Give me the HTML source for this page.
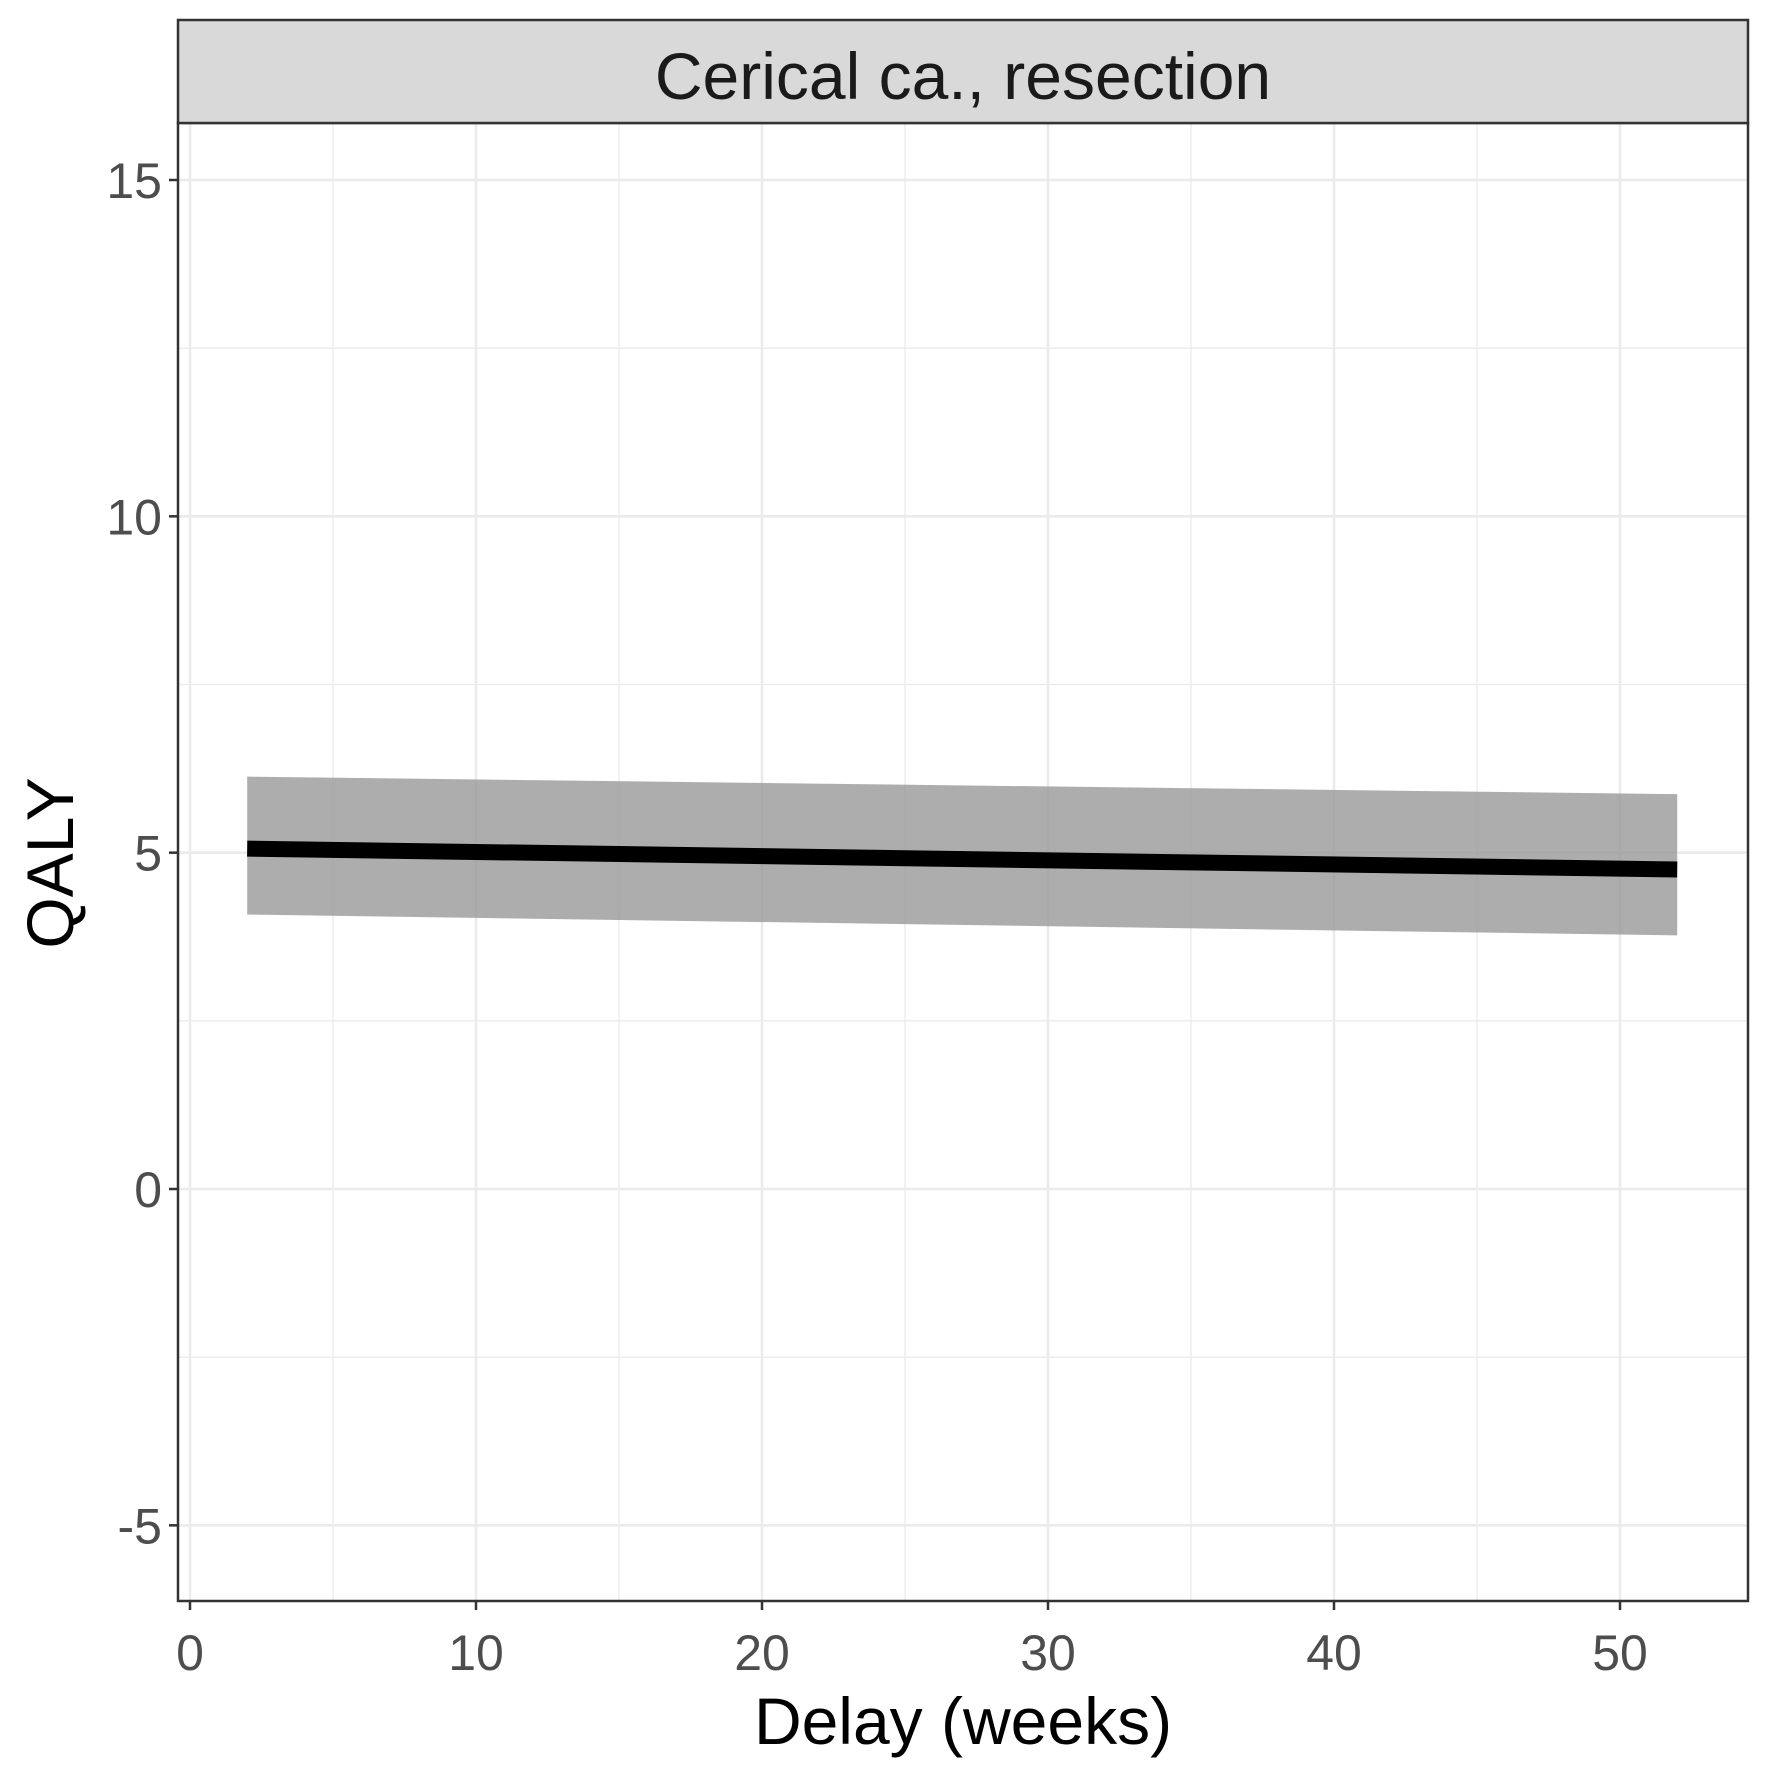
<!DOCTYPE html>
<html><head><meta charset="utf-8"><style>
html,body{margin:0;padding:0;background:#fff;}
svg{display:block;font-family:"Liberation Sans",Arial,sans-serif;}
</style></head><body>
<svg id="chart" width="1771" height="1771" viewBox="0 0 1771 1771" xmlns="http://www.w3.org/2000/svg">
<rect x="0" y="0" width="1771" height="1771" fill="#fff"/>
<g id="grid"></g>
<g id="marks"></g>
<rect x="178" y="123" width="1570" height="1478" fill="none" stroke="#333" stroke-width="2.5"/>
<rect x="178" y="20" width="1570" height="103" fill="#d9d9d9" stroke="#333" stroke-width="2.5"/>
<text x="963" y="99" font-size="66" text-anchor="middle" fill="#1a1a1a">Cerical ca., resection</text>
<g id="axes"></g>
<text x="963" y="1744" font-size="66" text-anchor="middle" fill="#000">Delay (weeks)</text>
<text transform="translate(73,863) rotate(-90)" font-size="66" text-anchor="middle" fill="#000">QALY</text>
</svg>
<script>
const xTicks=[0,10,20,30,40,50];
const xMinor=[5,15,25,35,45];
const yTicks=[-5,0,5,10,15];
const yMinor=[-2.5,2.5,7.5,12.5];
const delays=[2,52];
const qaly=[5.06,4.75];
const upper=[6.13,5.87];
const lower=[4.08,3.77];
const NS="http://www.w3.org/2000/svg";
const L=178,R=1748,T=123,B=1601;
function sx(v){return 190+v*(1620-190)/50;}
function sy(v){return 1189-v*(1189-180)/15;}
function mk(tag,attrs,parent){const e=document.createElementNS(NS,tag);for(const k in attrs)e.setAttribute(k,attrs[k]);parent.appendChild(e);return e;}
const grid=document.getElementById('grid'),marks=document.getElementById('marks'),axes=document.getElementById('axes');
xMinor.forEach(v=>{const e=mk('line',{x1:sx(v),x2:sx(v),y1:T,y2:B,stroke:'#ebebeb','stroke-width':1.3},grid);

});
yMinor.forEach(v=>{const e=mk('line',{x1:L,x2:R,y1:sy(v),y2:sy(v),stroke:'#ebebeb','stroke-width':1.3},grid);

});
xTicks.forEach(v=>{const e=mk('line',{x1:sx(v),x2:sx(v),y1:T,y2:B,stroke:'#ebebeb','stroke-width':2.6},grid);


const t=mk('line',{x1:sx(v),x2:sx(v),y1:B,y2:B+9,stroke:'#333','stroke-width':2.5},axes);


const l=mk('text',{x:sx(v),y:1670,'font-size':50,'text-anchor':'middle',fill:'#4d4d4d'},axes);l.textContent=v;

});
yTicks.forEach(v=>{const e=mk('line',{x1:L,x2:R,y1:sy(v),y2:sy(v),stroke:'#ebebeb','stroke-width':2.6},grid);


const t=mk('line',{x1:L-9,x2:L,y1:sy(v),y2:sy(v),stroke:'#333','stroke-width':2.5},axes);


const l=mk('text',{x:L-16,y:sy(v)+18,'font-size':50,'text-anchor':'end',fill:'#4d4d4d'},axes);l.textContent=v;

});
let pts=delays.map((d,i)=>sx(d)+','+sy(upper[i]));
for(let i=delays.length-1;i>=0;i--)pts.push(sx(delays[i])+','+sy(lower[i]));
const rib=mk('polygon',{points:pts.join(' '),fill:'#999','fill-opacity':0.8},marks);


const ln=mk('polyline',{points:delays.map((d,i)=>sx(d)+','+sy(qaly[i])).join(' '),fill:'none',stroke:'#000','stroke-width':16},marks);


</script>
</body></html>
